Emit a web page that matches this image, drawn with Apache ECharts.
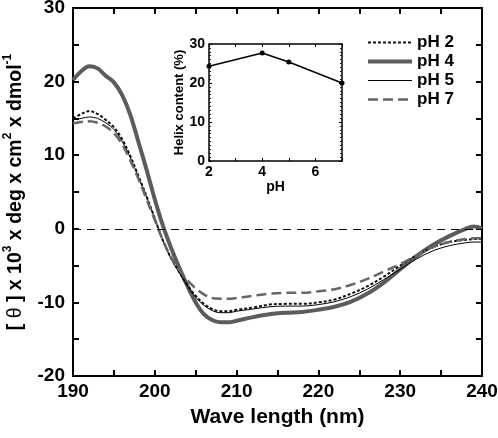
<!DOCTYPE html>
<html><head><meta charset="utf-8">
<script src="https://cdn.jsdelivr.net/npm/echarts@6/dist/echarts.min.js"></script>
<style>html,body{margin:0;padding:0;background:#fff}#c{width:498px;height:438px}</style>
</head><body><div id="c"></div>
<script>
const wavelengths = [190,191,192,193,194,195,196,197,198,199,200,201,202,203,204,205,206,207,208,209,210,212,214,216,218,220,222,224,226,228,230,232,234,236,238,239,240];
const pH2 = [15.0,15.6,16.0,15.6,14.8,13.8,12.2,9.9,7.2,4.4,1.4,-1.6,-4.0,-5.9,-7.7,-9.1,-10.2,-10.9,-11.2,-11.2,-11.0,-10.7,-10.3,-10.2,-10.2,-10.0,-9.6,-8.8,-7.8,-6.5,-5.0,-3.6,-2.5,-1.8,-1.5,-1.4,-1.4];
const pH4 = [20.2,21.4,22.1,21.8,20.8,19.9,18.2,15.5,11.8,8.0,4.0,0.4,-2.6,-5.3,-7.8,-10.0,-11.6,-12.4,-12.7,-12.7,-12.5,-12.0,-11.6,-11.4,-11.3,-11.0,-10.6,-9.9,-8.8,-7.3,-5.5,-3.7,-2.2,-1.0,0.0,0.3,0.1];
const pH5 = [14.8,15.0,15.2,15.0,14.4,13.5,11.9,9.7,7.0,4.3,1.4,-1.6,-4.1,-6.0,-7.8,-9.3,-10.4,-11.1,-11.4,-11.4,-11.2,-10.9,-10.6,-10.5,-10.5,-10.3,-9.9,-9.2,-8.2,-6.9,-5.5,-4.1,-3.0,-2.3,-1.9,-1.8,-1.8];
const pH7 = [14.3,14.5,14.6,14.4,13.9,13.0,11.5,9.3,6.8,4.0,1.2,-1.6,-3.9,-5.6,-7.0,-8.1,-8.9,-9.4,-9.5,-9.5,-9.4,-9.1,-8.8,-8.7,-8.7,-8.5,-8.2,-7.6,-6.8,-5.8,-4.8,-3.6,-2.5,-1.8,-1.4,-1.3,-1.3];
const seriesNames = ['pH 2','pH 4','pH 5','pH 7'];
const insetPH = [2,4,5,7];
const helixContent = [24.3,27.7,25.4,20.0];

const F = "'Liberation Sans', Arial, sans-serif";
const pair = arr => wavelengths.map((w,i)=>[w,arr[i]]);

function mainAxisX(pos, showLabel){
  return {gridIndex:0, type:'value', min:190, max:240, interval:10, position:pos,
    axisLine:{show:true, onZero:false, lineStyle:{color:'#000', width:2}},
    axisTick:{show:true, inside:true, length:6, lineStyle:{color:'#000', width:2}},
    minorTick:{show:true, splitNumber:2, length:6, lineStyle:{color:'#000', width:2}},
    axisLabel:{show:showLabel, color:'#000', fontFamily:F, fontWeight:'bold', fontSize:19, margin:6},
    splitLine:{show:false}};
}
function mainAxisY(pos, showLabel){
  return {gridIndex:0, type:'value', min:-20, max:30, interval:10, position:pos,
    axisLine:{show:true, onZero:false, lineStyle:{color:'#000', width:2}},
    axisTick:{show:true, inside:true, length:6, lineStyle:{color:'#000', width:2}},
    minorTick:{show:true, splitNumber:2, length:6, lineStyle:{color:'#000', width:2}},
    axisLabel:{show:showLabel, color:'#000', fontFamily:F, fontWeight:'bold', fontSize:19, margin:8},
    splitLine:{show:false}};
}
function insetAxisX(pos, showLabel){
  return {gridIndex:1, type:'value', min:2, max:7, interval:2, position:pos,
    axisLine:{show:true, onZero:false, lineStyle:{color:'#000', width:1.5}},
    axisTick:{show:true, inside:true, length:3, lineStyle:{color:'#000', width:1}},
    minorTick:{show:true, splitNumber:2, length:3, lineStyle:{color:'#000', width:1}},
    axisLabel:{show:showLabel, showMaxLabel:false, color:'#000', fontFamily:F, fontWeight:'bold', fontSize:14, margin:4},
    splitLine:{show:false}};
}
function insetAxisY(pos, showLabel){
  return {gridIndex:1, type:'value', min:0, max:30, interval:10, position:pos,
    axisLine:{show:true, onZero:false, lineStyle:{color:'#000', width:1.5}},
    axisTick:{show:true, inside:true, length:3, lineStyle:{color:'#000', width:1}},
    minorTick:{show:true, splitNumber:10, length:2, lineStyle:{color:'#000', width:0.8}},
    axisLabel:{show:showLabel, color:'#000', fontFamily:F, fontWeight:'bold', fontSize:14, margin:4},
    splitLine:{show:false}};
}

const xMain = mainAxisX('bottom', true);
xMain.name = 'Wave length (nm)';
xMain.nameLocation = 'middle';
xMain.nameGap = 31;
xMain.nameTextStyle = {color:'#000', fontFamily:F, fontWeight:'bold', fontSize:21};

const yMain = mainAxisY('left', true);
yMain.name = '{b|[ }{t|θ}{b| ] x 10}{s|3}{b| x deg x cm}{s|2}{b| x dmol}{s|-1}';
yMain.nameLocation = 'middle';
yMain.nameGap = 47;
yMain.nameTextStyle = {color:'#000', fontFamily:F, fontWeight:'bold', fontSize:19.5,
  rich:{
    b:{fontFamily:F, fontWeight:'bold', fontSize:19.5, color:'#000', lineHeight:24, verticalAlign:'bottom'},
    t:{fontFamily:F, fontWeight:'normal', fontSize:19.5, color:'#000', lineHeight:24, verticalAlign:'bottom'},
    s:{fontFamily:F, fontWeight:'bold', fontSize:12, color:'#000', lineHeight:24, verticalAlign:'top'}
  }};

const xIn = insetAxisX('bottom', true);
xIn.name = 'pH'; xIn.nameLocation='middle'; xIn.nameGap = 19;
xIn.nameTextStyle = {color:'#000', fontFamily:F, fontWeight:'bold', fontSize:14};
const yIn = insetAxisY('left', true);
yIn.name = 'Helix content (%)'; yIn.nameLocation='middle'; yIn.nameGap = 23;
yIn.nameTextStyle = {color:'#000', fontFamily:F, fontWeight:'bold', fontSize:13};

const styles = [
  {color:'#111', width:2, type:[3,2]},
  {color:'#5c5c5c', width:4, type:'solid'},
  {color:'#000', width:1, type:'solid'},
  {color:'#666', width:2.5, type:[10,5]}
];
const datas = [pH2, pH4, pH5, pH7];

const series = seriesNames.map((n,i)=>({
  name:n, type:'line', xAxisIndex:0, yAxisIndex:0, data:pair(datas[i]),
  showSymbol:false, symbol:'none', smooth:0.35, z: i===1?2:3,
  lineStyle:styles[i], itemStyle:{color:styles[i].color}
}));
series[0].markLine = {silent:true, symbol:'none', label:{show:false},
  lineStyle:{color:'#000', width:1, type:[8,6]}, data:[{yAxis:0}]};
series.push({name:'helix', type:'line', xAxisIndex:2, yAxisIndex:2,
  data:insetPH.map((p,i)=>[p,helixContent[i]]),
  symbol:'circle', symbolSize:5, lineStyle:{color:'#000', width:1.5}, itemStyle:{color:'#000'}});

const chart = echarts.init(document.getElementById('c'), null, {renderer:'canvas'});
chart.setOption({
  animation:false,
  backgroundColor:'#fff',
  grid:[
    {left:73, right:16, top:8, bottom:62, outerBoundsMode:'none', containLabel:false},
    {left:209, top:44, width:133, height:117, outerBoundsMode:'none', containLabel:false}
  ],
  xAxis:[xMain, mainAxisX('top', false), xIn, insetAxisX('top', false)],
  yAxis:[yMain, mainAxisY('right', false), yIn, insetAxisY('right', false)],
  legend:{data:seriesNames, orient:'vertical', left:361, top:29, itemWidth:44, itemHeight:14,
    itemGap:2, itemStyle:{opacity:0}, lineStyle:{width:'inherit'},
    textStyle:{color:'#000', fontFamily:F, fontWeight:'bold', fontSize:17}},
  series:series
});
</script></body></html>
